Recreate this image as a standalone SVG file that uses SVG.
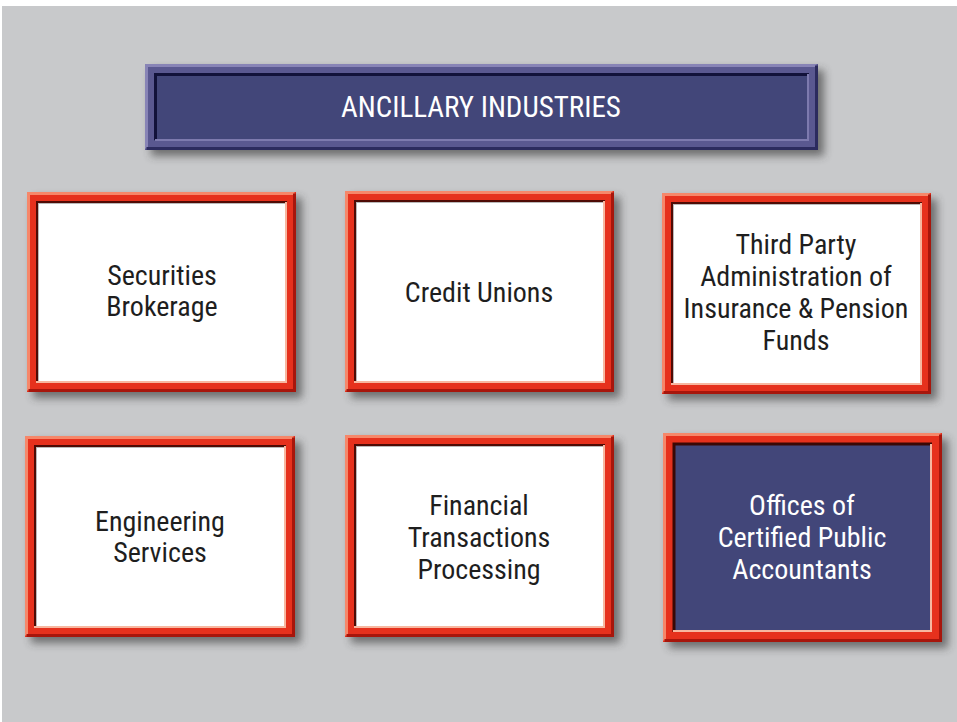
<svg xmlns="http://www.w3.org/2000/svg" width="957" height="722" viewBox="0 0 957 722">
<defs>
<filter id="sh" x="-10%" y="-10%" width="130%" height="130%"><feGaussianBlur stdDeviation="4.5"/></filter>
<style>
.bg{fill:#c8c9cb}
.shadow{fill:#333333;opacity:.6;filter:url(#sh)}
.rf{fill:#e6311d}
.rhl{fill:none;stroke:#f6876a;stroke-width:3}
.rdk{fill:none;stroke:#a7160c;stroke-width:3}
.wi{fill:#ffffff}
.bi{fill:#424679}
.ish1{fill:none;stroke:#4e0b05;stroke-width:2}
.ish2{fill:none;stroke:#8a8a8a;stroke-width:2;opacity:.6}
.ihl{fill:none;stroke:#f7b7a0;stroke-width:2}
.bf{fill:#5a5890}
.bhl{fill:none;stroke:#8884b6;stroke-width:3}
.bdk{fill:none;stroke:#2c2b5e;stroke-width:3}
.bish{fill:none;stroke:#12123a;stroke-width:3}
.bihl{fill:none;stroke:#7d7aae;stroke-width:2}
text{font-family:"Liberation Sans Narrow","Roboto Condensed","Liberation Sans",Arial,sans-serif;font-size:28px;text-anchor:middle}
.dk{fill:#1e1e1e}
.lt{fill:#ffffff}
</style>
</defs>
<rect class="bg" x="2" y="6" width="955" height="716"/>

<g id="title">
<rect class="shadow" x="151" y="70" width="673" height="86"/>
<rect class="bf" x="145" y="64" width="673" height="86"/>
<path class="bhl" d="M146.5,148.5 V65.5 H816.5"/>
<path class="bdk" d="M816.5,65.5 V148.5 H146.5"/>
<rect class="bi" x="154" y="73" width="655" height="68"/>
<path class="bish" d="M155.5,140 V74.5 H809"/>
<path class="bihl" d="M808,74 V140 H155"/>
<text class="lt" x="481" y="117" style="font-size:29px">ANCILLARY INDUSTRIES</text>
</g>

<g id="n1">
<rect class="shadow" x="33" y="198" width="269" height="200"/>
<rect class="rf" x="27" y="192" width="269" height="200"/>
<path class="rhl" d="M28.5,390.5 V193.5 H294.5"/>
<path class="rdk" d="M294.5,193.5 V390.5 H28.5"/>
<rect class="wi" x="36" y="201" width="251" height="182"/>
<path class="ish2" d="M38,383 V203 H287"/>
<path class="ish1" d="M37,383 V202 H287"/>
<path class="ihl" d="M286,202 V382 H36"/>
<text class="dk" x="162" y="285">Securities</text>
<text class="dk" x="162" y="316">Brokerage</text>
</g>

<g id="n2">
<rect class="shadow" x="351" y="197" width="269" height="201"/>
<rect class="rf" x="345" y="191" width="269" height="201"/>
<path class="rhl" d="M346.5,390.5 V192.5 H612.5"/>
<path class="rdk" d="M612.5,192.5 V390.5 H346.5"/>
<rect class="wi" x="354" y="200" width="251" height="183"/>
<path class="ish2" d="M356,383 V202 H605"/>
<path class="ish1" d="M355,383 V201 H605"/>
<path class="ihl" d="M604,201 V382 H354"/>
<text class="dk" x="479" y="302">Credit Unions</text>
</g>

<g id="n3">
<rect class="shadow" x="668" y="199" width="269" height="201"/>
<rect class="rf" x="662" y="193" width="269" height="201"/>
<path class="rhl" d="M663.5,392.5 V194.5 H929.5"/>
<path class="rdk" d="M929.5,194.5 V392.5 H663.5"/>
<rect class="wi" x="671" y="202" width="251" height="183"/>
<path class="ish2" d="M673,385 V204 H922"/>
<path class="ish1" d="M672,385 V203 H922"/>
<path class="ihl" d="M921,203 V384 H671"/>
<text class="dk" x="796" y="254">Third Party</text>
<text class="dk" x="796" y="286">Administration of</text>
<text class="dk" x="796" y="318">Insurance &amp; Pension</text>
<text class="dk" x="796" y="350">Funds</text>
</g>

<g id="n4">
<rect class="shadow" x="31" y="442" width="270" height="201"/>
<rect class="rf" x="25" y="436" width="270" height="201"/>
<path class="rhl" d="M26.5,635.5 V437.5 H293.5"/>
<path class="rdk" d="M293.5,437.5 V635.5 H26.5"/>
<rect class="wi" x="34" y="445" width="252" height="183"/>
<path class="ish2" d="M36,628 V447 H286"/>
<path class="ish1" d="M35,628 V446 H286"/>
<path class="ihl" d="M285,446 V627 H34"/>
<text class="dk" x="160" y="531">Engineering</text>
<text class="dk" x="160" y="562">Services</text>
</g>

<g id="n5">
<rect class="shadow" x="351" y="441" width="269" height="202"/>
<rect class="rf" x="345" y="435" width="269" height="202"/>
<path class="rhl" d="M346.5,635.5 V436.5 H612.5"/>
<path class="rdk" d="M612.5,436.5 V635.5 H346.5"/>
<rect class="wi" x="354" y="444" width="251" height="184"/>
<path class="ish2" d="M356,628 V446 H605"/>
<path class="ish1" d="M355,628 V445 H605"/>
<path class="ihl" d="M604,445 V627 H354"/>
<text class="dk" x="479" y="515">Financial</text>
<text class="dk" x="479" y="547">Transactions</text>
<text class="dk" x="479" y="579">Processing</text>
</g>

<g id="n6">
<rect class="shadow" x="669" y="439" width="279" height="209"/>
<rect class="rf" x="663" y="433" width="279" height="209"/>
<path class="rhl" d="M664.5,640.5 V434.5 H940.5"/>
<path class="rdk" d="M940.5,434.5 V640.5 H664.5"/>
<rect class="bi" x="673" y="443" width="259" height="189"/>
<path class="ish1" d="M674,632 V444 H932" style="stroke:#3a0805;stroke-width:3"/>
<path class="ihl" d="M931,444 V631 H673"/>
<text class="lt" x="802" y="515">Offices of</text>
<text class="lt" x="802" y="547">Certified Public</text>
<text class="lt" x="802" y="579">Accountants</text>
</g>
<g id="connectors"/>
</svg>
